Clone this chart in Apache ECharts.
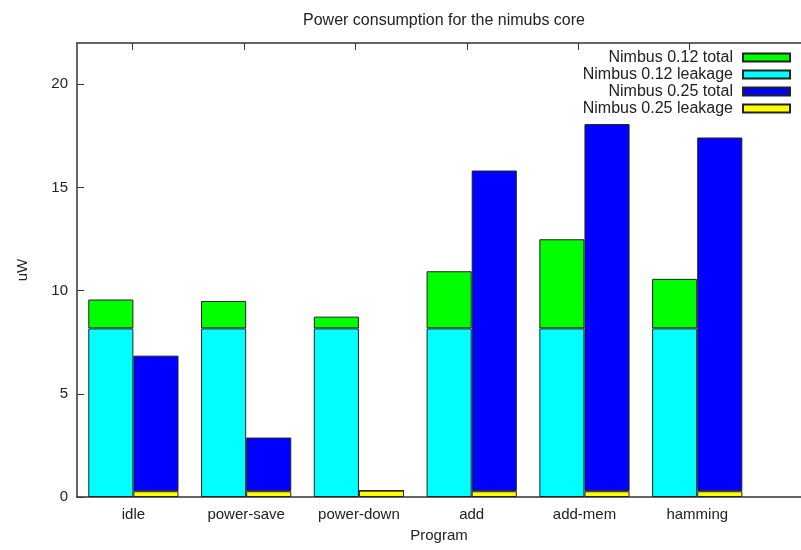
<!DOCTYPE html>
<html>
<head>
<meta charset="utf-8">
<script src="https://cdn.jsdelivr.net/npm/echarts@6/dist/echarts.min.js"></script>
<style>
  html, body { margin: 0; padding: 0; background: #fff; }
  #chart { width: 801px; height: 550px; }
</style>
</head>
<body>
<div id="chart"></div>
<script>
// Programs run on the core
const programs = ['idle', 'power-save', 'power-down', 'add', 'add-mem', 'hamming'];

// Power in uW per program
const nimbus012Total   = [9.57, 9.50, 8.74, 10.94, 12.49, 10.57];
const nimbus012Leakage = [8.17, 8.17, 8.17, 8.17, 8.17, 8.17];
const nimbus025Total   = [6.85, 2.88, 0.31, 15.82, 18.07, 17.42];
const nimbus025Leakage = [0.28, 0.28, 0.31, 0.28, 0.28, 0.28];

const yTicks = [0, 5, 10, 15, 20];

const FONT = '"Liberation Sans", Arial, Helvetica, sans-serif';
const INK = '#222';
const FRAME = '#333';

// Plot frame: runs from x = -0.5 to 6 in program units; the bars use a
// category band of the same width per program on a second, narrower grid.
const FRAME_LEFT = 77, FRAME_TOP = 43, PLOT_H = 454;
const X_MIN = -0.5, X_MAX = 6;
const FRAME_W = 733;
const UNIT = FRAME_W / (X_MAX - X_MIN);
const BAR_GRID_W = UNIT * programs.length;

// Each total is drawn as its leakage plus the remainder stacked on top,
// so the leakage bar sits inside the total bar.
const rest = (tot, leak) => tot.map((v, i) => +(v - leak[i]).toFixed(4));

const barCommon = {
  type: 'bar',
  xAxisIndex: 2,
  yAxisIndex: 1,
  barWidth: '40%',
  barGap: '0%',
  animation: false,
  emphasis: { disabled: true }
};
const edge = { borderColor: '#222', borderWidth: 1 };

const chart = echarts.init(document.getElementById('chart'), null, { renderer: 'canvas' });

chart.setOption({
  backgroundColor: '#ffffff',
  animation: false,
  textStyle: { fontFamily: FONT },
  title: {
    text: 'Power consumption for the nimubs core',
    left: 439,
    top: 8,
    textAlign: 'center',
    textStyle: { fontFamily: FONT, fontSize: 16, fontWeight: 'normal', color: INK }
  },
  legend: {
    orient: 'vertical',
    right: 10,
    top: 49,
    padding: 0,
    align: 'right',
    itemWidth: 47,
    itemHeight: 8,
    itemGap: 0,
    icon: 'rect',
    data: ['Nimbus 0.12 total', 'Nimbus 0.12 leakage', 'Nimbus 0.25 total', 'Nimbus 0.25 leakage'],
    textStyle: { fontFamily: FONT, fontSize: 16, color: INK, lineHeight: 17, padding: [0, 5, 0, 0] },
    selectedMode: false
  },
  grid: [
    { left: FRAME_LEFT, top: FRAME_TOP, width: FRAME_W, height: PLOT_H, containLabel: false },
    { left: FRAME_LEFT, top: FRAME_TOP, width: BAR_GRID_W, height: PLOT_H, containLabel: false }
  ],
  xAxis: [
    {
      gridIndex: 0,
      type: 'value',
      min: X_MIN,
      max: X_MAX,
      position: 'bottom',
      name: 'Program',
      nameLocation: 'middle',
      nameGap: 31,
      nameTextStyle: { fontFamily: FONT, fontSize: 15, color: INK },
      splitLine: { show: false },
      axisLine: { show: true, onZero: false, lineStyle: { color: FRAME, width: 1.5 } },
      axisTick: { show: false },
      axisLabel: { show: false }
    },
    {
      gridIndex: 0,
      type: 'value',
      min: X_MIN,
      max: X_MAX,
      position: 'top',
      splitLine: { show: false },
      axisLine: { show: true, onZero: false, lineStyle: { color: FRAME, width: 1.5 } },
      axisTick: { show: true, inside: true, length: 7, customValues: [0, 1, 2, 3, 4, 5], lineStyle: { color: FRAME } },
      axisLabel: { show: false }
    },
    {
      gridIndex: 1,
      type: 'category',
      data: programs,
      position: 'bottom',
      boundaryGap: true,
      axisLine: { show: false },
      axisTick: { show: false },
      splitLine: { show: false },
      axisLabel: { margin: 10, fontFamily: FONT, fontSize: 15, color: INK }
    }
  ],
  yAxis: [
    {
      gridIndex: 0,
      type: 'value',
      min: 0,
      max: 22,
      interval: 5,
      name: 'uW',
      nameLocation: 'middle',
      nameGap: 47,
      nameRotate: 90,
      nameTextStyle: { fontFamily: FONT, fontSize: 15, color: INK },
      splitLine: { show: false },
      axisLine: { show: true, onZero: false, lineStyle: { color: FRAME, width: 1.5 } },
      axisTick: { show: true, inside: true, length: 7, customValues: yTicks, lineStyle: { color: FRAME } },
      axisLabel: { customValues: yTicks, margin: 9, fontFamily: FONT, fontSize: 15, color: INK }
    },
    {
      gridIndex: 1,
      type: 'value',
      min: 0,
      max: 22,
      show: false,
      splitLine: { show: false }
    }
  ],
  series: [
    Object.assign({}, barCommon, {
      name: 'Nimbus 0.12 leakage', stack: 'n012',
      data: nimbus012Leakage,
      itemStyle: Object.assign({ color: '#00ffff' }, edge)
    }),
    Object.assign({}, barCommon, {
      name: 'Nimbus 0.12 total', stack: 'n012',
      data: rest(nimbus012Total, nimbus012Leakage),
      itemStyle: Object.assign({ color: '#00ff00' }, edge)
    }),
    Object.assign({}, barCommon, {
      name: 'Nimbus 0.25 leakage', stack: 'n025',
      data: nimbus025Leakage,
      itemStyle: Object.assign({ color: '#ffff00' }, edge)
    }),
    Object.assign({}, barCommon, {
      name: 'Nimbus 0.25 total', stack: 'n025',
      data: rest(nimbus025Total, nimbus025Leakage),
      itemStyle: Object.assign({ color: '#0000ff' }, edge)
    })
  ]
});
</script>
</body>
</html>
